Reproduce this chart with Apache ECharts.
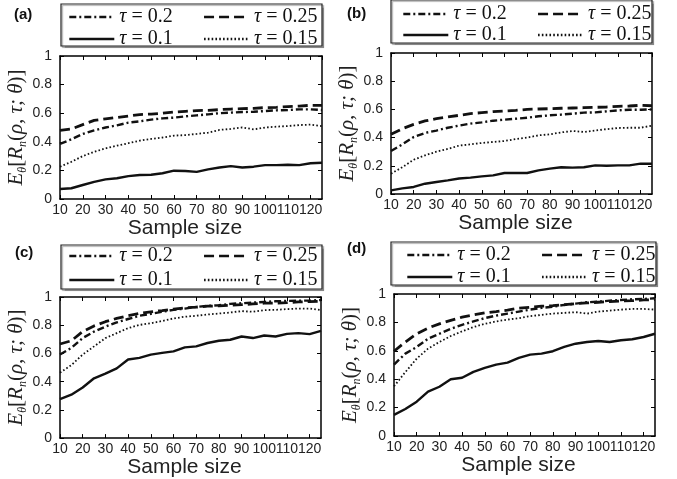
<!DOCTYPE html>
<html>
<head>
<meta charset="utf-8">
<script src="https://cdn.jsdelivr.net/npm/echarts@6/dist/echarts.min.js"></script>
<style>html,body{margin:0;padding:0;background:#fff;}#c{width:677px;height:479px;}</style>
</head>
<body>
<div id="c"></div>
<script>
// Sample sizes (x values)
const sampleSizes = [10,15,20,25,30,35,40,45,50,55,60,65,70,75,80,85,90,95,100,105,110,115,120,125];
const tauNames = ['τ = 0.1', 'τ = 0.15', 'τ = 0.2', 'τ = 0.25'];
const panelLabels = ['(a)', '(b)', '(c)', '(d)'];

// Panel (a)
const a_tau01  = [0.07,0.075,0.098,0.12,0.137,0.145,0.16,0.168,0.17,0.18,0.198,0.196,0.19,0.207,0.22,0.23,0.22,0.226,0.237,0.237,0.24,0.237,0.25,0.254];
const a_tau015 = [0.226,0.26,0.30,0.33,0.354,0.373,0.39,0.408,0.42,0.43,0.443,0.447,0.455,0.464,0.483,0.49,0.50,0.487,0.50,0.506,0.51,0.517,0.52,0.51];
const a_tau02  = [0.385,0.417,0.455,0.48,0.50,0.515,0.534,0.543,0.555,0.564,0.569,0.578,0.585,0.592,0.60,0.604,0.608,0.61,0.615,0.62,0.622,0.627,0.627,0.622];
const a_tau025 = [0.48,0.49,0.52,0.55,0.56,0.57,0.58,0.59,0.594,0.60,0.608,0.613,0.618,0.62,0.625,0.629,0.632,0.634,0.639,0.641,0.646,0.65,0.655,0.655];
// Panel (b)
const b_tau01  = [0.026,0.04,0.05,0.073,0.085,0.097,0.11,0.116,0.125,0.132,0.149,0.149,0.149,0.168,0.18,0.19,0.187,0.19,0.203,0.2,0.203,0.203,0.215,0.215];
const b_tau015 = [0.144,0.19,0.243,0.274,0.30,0.32,0.343,0.352,0.362,0.369,0.376,0.39,0.40,0.416,0.423,0.437,0.447,0.44,0.45,0.46,0.468,0.47,0.47,0.485];
const b_tau02  = [0.305,0.352,0.404,0.433,0.45,0.47,0.485,0.499,0.508,0.52,0.527,0.534,0.541,0.551,0.558,0.563,0.57,0.577,0.579,0.586,0.593,0.598,0.598,0.60];
const b_tau025 = [0.423,0.463,0.494,0.518,0.534,0.546,0.558,0.57,0.577,0.584,0.589,0.593,0.60,0.603,0.605,0.608,0.61,0.612,0.615,0.617,0.622,0.624,0.629,0.626];
// Panel (c)
const c_tau01  = [0.277,0.308,0.359,0.424,0.457,0.494,0.557,0.569,0.592,0.604,0.615,0.643,0.65,0.674,0.69,0.697,0.72,0.709,0.727,0.72,0.739,0.744,0.737,0.76];
const c_tau015 = [0.464,0.517,0.592,0.65,0.709,0.744,0.779,0.802,0.814,0.83,0.848,0.86,0.867,0.876,0.883,0.89,0.9,0.895,0.907,0.909,0.914,0.918,0.918,0.907];
const c_tau02  = [0.592,0.639,0.709,0.755,0.79,0.82,0.844,0.867,0.881,0.895,0.909,0.918,0.93,0.937,0.942,0.951,0.956,0.96,0.965,0.97,0.972,0.974,0.974,0.979];
const c_tau025 = [0.667,0.69,0.755,0.795,0.825,0.848,0.867,0.883,0.895,0.904,0.914,0.923,0.928,0.935,0.937,0.942,0.946,0.951,0.956,0.956,0.96,0.965,0.967,0.97];
// Panel (d)
const d_tau01  = [0.149,0.19,0.242,0.312,0.347,0.40,0.41,0.452,0.48,0.503,0.517,0.55,0.573,0.58,0.597,0.627,0.65,0.662,0.669,0.662,0.674,0.681,0.697,0.72];
const d_tau015 = [0.35,0.45,0.545,0.615,0.662,0.704,0.737,0.767,0.79,0.807,0.82,0.83,0.844,0.853,0.862,0.867,0.872,0.862,0.876,0.883,0.89,0.895,0.895,0.89];
const d_tau02  = [0.503,0.58,0.627,0.685,0.72,0.755,0.783,0.807,0.83,0.848,0.862,0.876,0.89,0.902,0.911,0.923,0.932,0.942,0.946,0.953,0.958,0.963,0.965,0.97];
const d_tau025 = [0.597,0.662,0.72,0.76,0.79,0.814,0.837,0.853,0.867,0.876,0.886,0.9,0.907,0.914,0.918,0.925,0.932,0.937,0.942,0.946,0.951,0.953,0.958,0.96];

const panelData = [
  [a_tau01, a_tau015, a_tau02, a_tau025],
  [b_tau01, b_tau015, b_tau02, b_tau025],
  [c_tau01, c_tau015, c_tau02, c_tau025],
  [d_tau01, d_tau015, d_tau02, d_tau025]
];

// Layout (pixels)
const grids = [
  {left: 60, top: 56, width: 262, height: 143},
  {left: 391, top: 53, width: 261, height: 141},
  {left: 60, top: 297, width: 261, height: 143},
  {left: 394, top: 294, width: 261, height: 142}
];
const legendBoxes = [
  {x: 61, y: 4, w: 261, h: 42, lx: 68, r1: 7, r2: 29},
  {x: 391, y: 0, w: 261, h: 43, lx: 402, r1: 4, r2: 25},
  {x: 61, y: 245, w: 261, h: 44, lx: 68, r1: 246, r2: 270},
  {x: 391, y: 242, w: 265, h: 43, lx: 406, r1: 245, r2: 267}
];
const labelPos = [[14, 7], [347, 6], [15, 245], [347, 241]];

const lineStyles = [
  {color: '#111', width: 2.4, type: 'solid'},
  {color: '#111', width: 1.8, type: [1.6, 2.2]},
  {color: '#111', width: 2.4, type: [7, 3, 2, 3]},
  {color: '#111', width: 2.8, type: [10, 5]}
];

const fontSans = 'Liberation Sans, Arial, sans-serif';
const fontSerif = 'Liberation Serif, Times New Roman, serif';

const option = {
  animation: false,
  backgroundColor: '#fff',
  grid: [], xAxis: [], yAxis: [], series: [], legend: [], graphic: []
};

grids.forEach((g, i) => {
  option.grid.push(Object.assign({show: false}, g));
  option.xAxis.push({
    type: 'value', gridIndex: i, min: 10, max: 125, interval: 10, position: 'bottom',
    axisLine: {show: true, onZero: false, lineStyle: {color: '#000', width: 1.5}},
    axisTick: {show: true, inside: true, length: 4, lineStyle: {color: '#000'}},
    axisLabel: {show: true, margin: 4, color: '#222', fontFamily: fontSans, fontSize: 14, showMaxLabel: false},
    splitLine: {show: false},
    name: 'Sample size', nameLocation: 'middle', nameGap: 16,
    nameTextStyle: {fontFamily: fontSans, fontSize: 21, color: '#222', padding: [0, 12, 0, 0]}
  });
  option.yAxis.push({
    type: 'value', gridIndex: i, min: 0, max: 1, interval: 0.2, position: 'left',
    axisLine: {show: true, onZero: false, lineStyle: {color: '#000', width: 1.5}},
    axisTick: {show: true, inside: true, length: 4, lineStyle: {color: '#000'}},
    axisLabel: {show: true, margin: 8, color: '#222', fontFamily: fontSans, fontSize: 14},
    splitLine: {show: false},
    name: '{e|E}{s|θ}{p|[}{e|R}{s|n}{p|(}{e|ρ, τ; θ}{p|)]}',
    nameLocation: 'middle', nameGap: 27,
    nameTextStyle: {
      color: '#222',
      rich: {
        e: {fontFamily: fontSerif, fontStyle: 'italic', fontSize: 21, color: '#222', lineHeight: 24},
        p: {fontFamily: fontSerif, fontSize: 21, color: '#222', lineHeight: 24},
        s: {fontFamily: fontSerif, fontStyle: 'italic', fontSize: 12, color: '#222', lineHeight: 24, verticalAlign: 'bottom', padding: [10, 0, 0, 0]}
      }
    }
  });
});
grids.forEach((g, i) => {
  option.xAxis.push({
    type: 'value', gridIndex: i, min: 10, max: 125, interval: 10, position: 'top',
    axisLine: {show: true, onZero: false, lineStyle: {color: '#000', width: 1.5}},
    axisTick: {show: true, inside: true, length: 4, lineStyle: {color: '#000'}},
    axisLabel: {show: false}, splitLine: {show: false}
  });
  option.yAxis.push({
    type: 'value', gridIndex: i, min: 0, max: 1, interval: 0.2, position: 'right',
    axisLine: {show: true, onZero: false, lineStyle: {color: '#000', width: 1.5}},
    axisTick: {show: true, inside: true, length: 4, lineStyle: {color: '#000'}},
    axisLabel: {show: false}, splitLine: {show: false}
  });
});

panelData.forEach((arrs, i) => {
  arrs.forEach((vals, k) => {
    option.series.push({
      type: 'line', name: tauNames[k], xAxisIndex: i, yAxisIndex: i,
      symbol: 'none', smooth: false,
      itemStyle: {color: '#111'},
      lineStyle: lineStyles[k],
      data: sampleSizes.map((x, j) => [x, vals[j]])
    });
  });
});

const legendText = {
  fontFamily: fontSerif, fontSize: 20, color: '#111',
  rich: {t: {fontFamily: fontSerif, fontStyle: 'italic', fontSize: 20, color: '#111'}, n: {fontFamily: fontSerif, fontSize: 20, color: '#111'}}
};
const legendFormatter = name => '{t|τ}{n| = ' + name.split('= ')[1] + '}';

legendBoxes.forEach((b, i) => {
  option.graphic.push({
    type: 'rect', shape: {x: b.x, y: b.y, width: b.w, height: b.h},
    style: {fill: '#fff', stroke: '#222', lineWidth: 1.2, shadowColor: 'rgba(0,0,0,0.3)', shadowOffsetX: 1.5, shadowOffsetY: 1.5, shadowBlur: 1},
    z: -1
  });
  [[tauNames[2], tauNames[3], b.r1], [tauNames[0], tauNames[1], b.r2]].forEach(row => {
    option.legend.push({
      data: [row[0], row[1]], left: b.lx, top: row[2], orient: 'horizontal',
      itemWidth: 45, itemHeight: 14, itemGap: 30, padding: 0, selectedMode: false,
      itemStyle: {opacity: 0},
      lineStyle: {width: 2.6},
      textStyle: legendText, formatter: legendFormatter
    });
  });
  option.graphic.push({
    type: 'text', left: labelPos[i][0], top: labelPos[i][1],
    style: {text: panelLabels[i], fontFamily: fontSans, fontWeight: 'bold', fontSize: 15, fill: '#111'}
  });
});

const chart = echarts.init(document.getElementById('c'), null, {renderer: 'canvas'});
chart.setOption(option);
</script>
</body>
</html>
